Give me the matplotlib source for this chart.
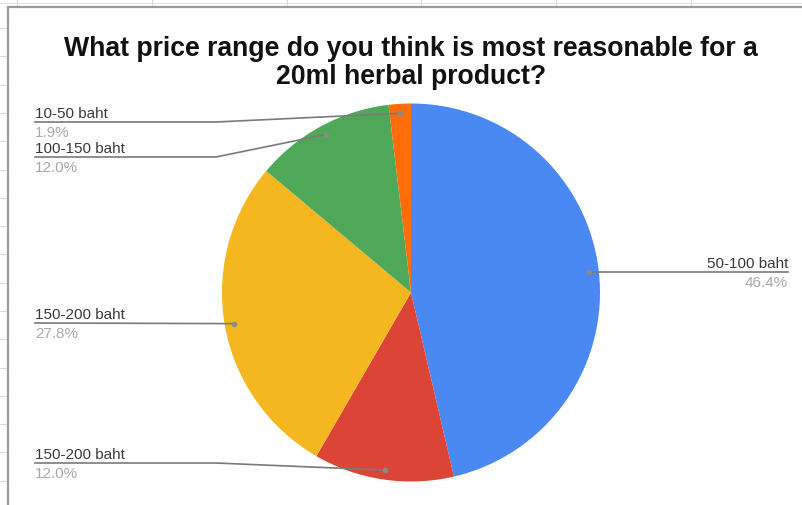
import numpy as np
import matplotlib.pyplot as plt

plt.rcParams['font.family'] = ['Liberation Sans', 'DejaVu Sans']

# slices, clockwise from 12 o'clock
labels = ['50-100 baht', '150-200 baht', '150-200 baht', '100-150 baht', '10-50 baht']
shares = [46.4, 12.0, 27.8, 12.0, 1.9]
colors = ['#4a89f3', '#dc4535', '#f4b71f', '#4fa857', '#ff6d0a']
title = 'What price range do you think is most reasonable for a\n20ml herbal product?'

W, H = 803, 505
cx, cy, R = 411, 292.5, 189

fig = plt.figure(figsize=(W / 100, H / 100), dpi=100)
fig.patch.set_facecolor('white')

# overlay in pixel units for the sheet grid, labels and leader lines
ov = fig.add_axes([0, 0, 1, 1])
ov.set_xlim(0, W)
ov.set_ylim(H, 0)
ov.axis('off')

# spreadsheet cells peeking around the chart box
for gx in np.arange(17, W, 134.8):
    ov.plot([gx, gx], [0, 7], color='#d9d9d9', lw=0.8)
ov.plot([0, W], [3, 3], color='#e2e2e2', lw=0.8)
for gy in np.arange(28, H, 28.3):
    ov.plot([0, 8], [gy, gy], color='#d9d9d9', lw=0.8)
ov.plot([8, 8], [7, H], color='#9a9a9a', lw=1.6)
ov.plot([8, W], [7, 7], color='#9a9a9a', lw=1.6)

ov.text(411, 35.5, title, ha='center', va='top', fontsize=19.2,
        fontweight='bold', color='#111111', linespacing=1.13)

# the pie itself
ax = fig.add_axes([(cx - R) / W, (H - cy - R) / H, 2 * R / W, 2 * R / H])
ax.pie(shares, colors=colors, startangle=90, counterclock=False, radius=1,
       wedgeprops=dict(linewidth=0))
ax.set_xlim(-1, 1)
ax.set_ylim(-1, 1)
ax.set_aspect('equal')
ax.axis('off')

# label layout: which side, line height, elbow
side = ['right', 'left', 'left', 'left', 'left']
line_y = [272, 463, 323, 157, 122]
elbow_x = 216
left_x, right_x = 35, 788
lc = '#7a7a7a'

total = sum(shares)
start = 0.0
for lab, val, sd, ly in zip(labels, shares, side, line_y):
    mid = (start + val / 2) / total * 2 * np.pi
    start += val
    dx = cx + 0.95 * R * np.sin(mid)
    dy = cy - 0.95 * R * np.cos(mid)
    pct = '%.1f%%' % val
    if sd == 'right':
        ov.plot([dx, right_x], [ly, ly], color=lc, lw=1.2)
        ov.text(right_x, ly - 4, lab, ha='right', va='baseline',
                fontsize=11, color='#3a3a3a')
        ov.text(right_x, ly + 15, pct, ha='right', va='baseline',
                fontsize=11, color='#a8a8a8')
    else:
        if abs(dy - ly) < 3:
            ov.plot([left_x, dx], [ly, dy], color=lc, lw=1.2)
        else:
            ov.plot([left_x, elbow_x, dx], [ly, ly, dy], color=lc, lw=1.2)
        ov.text(left_x, ly - 4, lab, ha='left', va='baseline',
                fontsize=11, color='#3a3a3a')
        ov.text(left_x, ly + 15, pct, ha='left', va='baseline',
                fontsize=11, color='#a8a8a8')
    ov.plot(dx, dy, 'o', ms=4, color='#8a8a8a', mec='none', zorder=5)

ov.set_zorder(3)
ov.patch.set_visible(False)

fig.savefig('out.png', dpi=100, facecolor='white')
